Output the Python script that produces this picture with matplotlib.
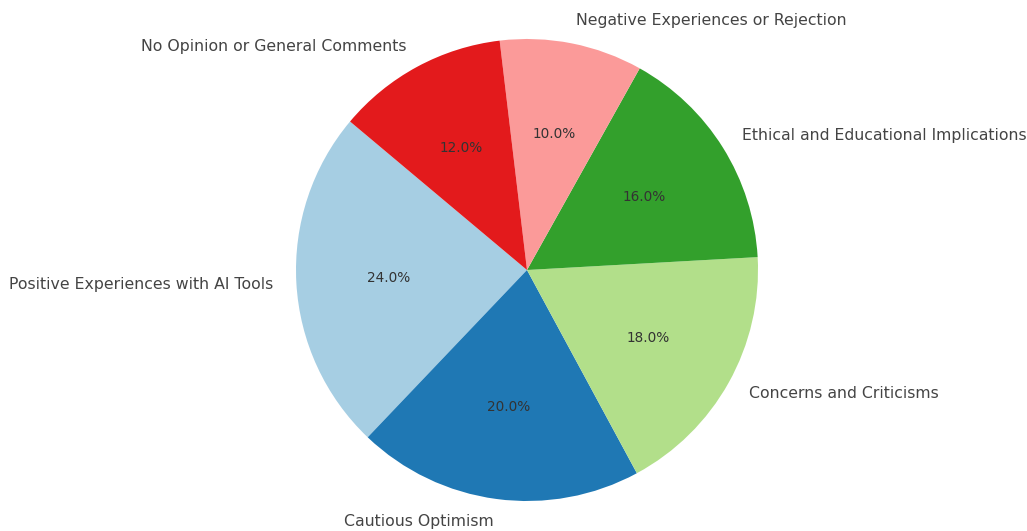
import matplotlib
matplotlib.use("Agg")
import matplotlib.pyplot as plt

categories = [
    "Positive Experiences with AI Tools",
    "Cautious Optimism",
    "Concerns and Criticisms",
    "Ethical and Educational Implications",
    "Negative Experiences or Rejection",
    "No Opinion or General Comments",
]
shares = [24, 20, 18, 16, 10, 12]

colors = plt.cm.Paired.colors[:len(categories)]

W, H, DPI = 1027, 531, 100
CX, CY, R = 527, 270, 231  # pie centre and radius in pixels

fig = plt.figure(figsize=(W / DPI, H / DPI), dpi=DPI, facecolor="white")
ax = fig.add_axes([0, 0, 1, 1])

wedges, texts, autotexts = ax.pie(
    shares,
    labels=categories,
    colors=colors,
    autopct="%1.1f%%",
    startangle=140,
    textprops={"color": "#444444", "fontsize": 11.3},
)
for t in autotexts:
    t.set_color("#333333")
    t.set_fontsize(9.8)

# one data unit == R pixels in both directions
ax.set_aspect("auto")
ax.set_xlim(-CX / R, (W - CX) / R)
ax.set_ylim(-(H - CY) / R, CY / R)
ax.axis("off")

fig.savefig("out.png", dpi=DPI, facecolor="white")
